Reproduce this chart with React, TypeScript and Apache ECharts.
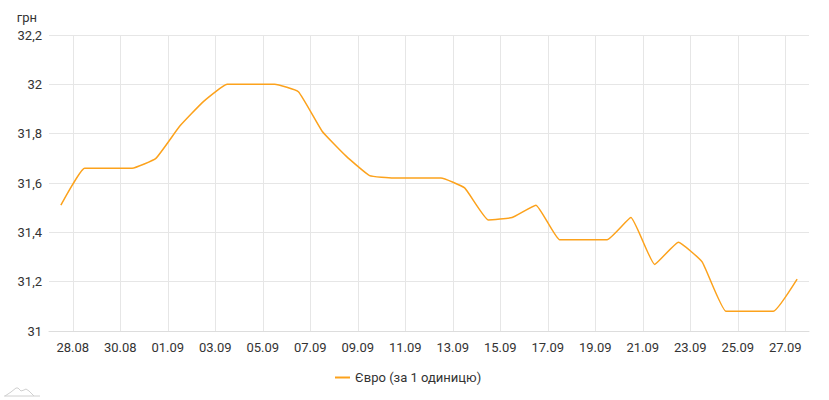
import React, { useEffect, useRef } from "react";
import * as echarts from "echarts";

const dates = [
  "27.08", "28.08", "29.08", "30.08", "31.08",
  "01.09", "02.09", "03.09", "04.09", "05.09", "06.09", "07.09", "08.09", "09.09", "10.09",
  "11.09", "12.09", "13.09", "14.09", "15.09", "16.09", "17.09", "18.09", "19.09", "20.09",
  "21.09", "22.09", "23.09", "24.09", "25.09", "26.09", "27.09",
];
const euroValues = [
  31.51, 31.66, 31.66, 31.66, 31.70,
  31.83, 31.93, 32.0, 32.0, 32.0, 31.97, 31.81, 31.71, 31.63, 31.62,
  31.62, 31.62, 31.58, 31.45, 31.46, 31.51, 31.37, 31.37, 31.37, 31.46,
  31.27, 31.36, 31.28, 31.08, 31.08, 31.08, 31.21,
];
const seriesName = "Євро (за 1 одиницю)";
const unitName = "грн";
const yMin = 31;
const yMax = 32.2;
const yStep = 0.2;

export default function App() {
  const ref = useRef<HTMLDivElement>(null);
  useEffect(() => {
    if (!ref.current) return;
    const chart = echarts.init(ref.current, null, { renderer: "svg" });
    const textColor = "#333333";
    const gridColor = "#e6e6e6";
    chart.setOption({
      animation: false,
      textStyle: { fontFamily: "Roboto" },
      grid: { left: 49, right: 20, top: 35, bottom: 69, containLabel: false },
      xAxis: {
        type: "value",
        min: 0,
        max: dates.length,
        interval: 1,
        axisLine: { show: true, lineStyle: { color: "#dddddd", width: 1 } },
        axisTick: { show: false },
        axisLabel: {
          color: textColor,
          fontSize: 13,
          margin: 10,
          showMinLabel: true,
          showMaxLabel: true,
          formatter: (v: number) => {
            const i = Math.round(v);
            return i % 2 === 1 && i < dates.length ? dates[i] : "";
          },
        },
        splitLine: {
          show: true,
          lineStyle: { color: ["rgba(0,0,0,0)", gridColor], width: 1 },
        },
      },
      yAxis: {
        type: "value",
        min: yMin,
        max: yMax,
        interval: yStep,
        name: unitName,
        nameLocation: "end",
        nameGap: 11,
        nameTextStyle: { color: textColor, fontSize: 13, align: "right", padding: [0, 12, 0, 0] },
        axisLine: { show: false },
        axisTick: { show: false },
        axisLabel: {
          color: textColor,
          fontSize: 13,
          margin: 7,
          formatter: (v: number) => String(+v.toFixed(1)).replace(".", ","),
        },
        splitLine: { show: true, lineStyle: { color: gridColor, width: 1 } },
      },
      legend: {
        show: true,
        left: 330,
        top: 366,
        icon: "rect",
        itemWidth: 15,
        itemHeight: 2,
        itemGap: 4,
        textStyle: { color: textColor, fontSize: 13, fontFamily: "Roboto" },
        data: [seriesName],
      },
      series: [
        {
          name: seriesName,
          type: "line",
          data: euroValues.map((v, i) => [i + 0.5, v]),
          smooth: 0.12,
          showSymbol: false,
          symbol: "none",
          lineStyle: { color: "#fca21c", width: 1.5 },
          itemStyle: { color: "#fca21c" },
        },
      ],
      graphic: [
        {
          type: "polyline",
          shape: { points: [[4, 396], [40, 396]] },
          style: { stroke: "#d0d0d0", lineWidth: 1, fill: "none" },
        },
        {
          type: "polyline",
          shape: {
            points: [[5, 396], [11, 392], [16, 388], [18, 388], [21, 391], [24, 390], [26, 389], [29, 391], [34, 396]],
          },
          style: { stroke: "#d0d0d0", lineWidth: 1, fill: "none" },
        },
      ],
    });
    return () => chart.dispose();
  }, []);
  return (
    <div
      ref={ref}
      style={{ position: "fixed", left: 0, top: 0, width: 829, height: 400, background: "#fff" }}
    />
  );
}
